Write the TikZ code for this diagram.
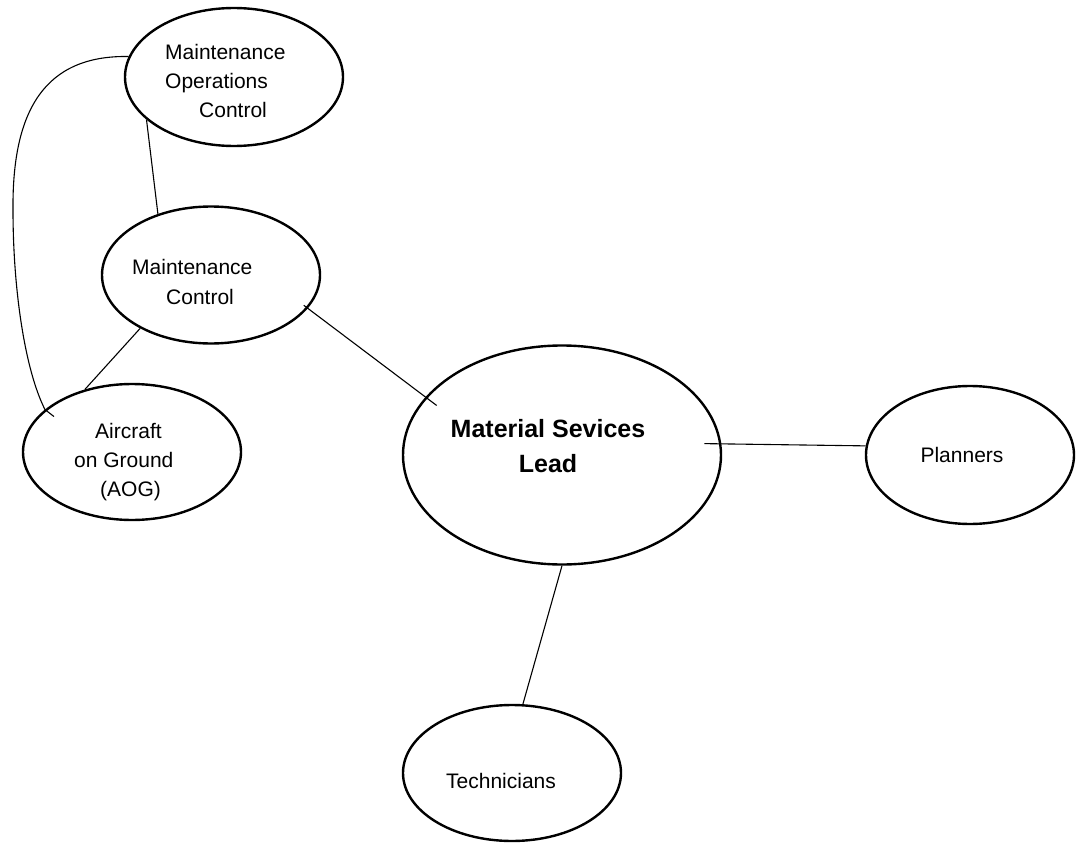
\documentclass[tikz,border=0pt]{standalone}
\usepackage{fontspec}
\setmainfont{Liberation Sans}
\usetikzlibrary{shapes.geometric}
\begin{document}
\begin{tikzpicture}[x=1pt,y=-1pt,
  bubble/.style={draw=black,line width=2.4pt,ellipse,inner sep=0pt},
  link/.style={draw=black,line width=1.1pt},
  lbl/.style={inner sep=0pt,font=\fontsize{21}{29}\selectfont}]
\useasboundingbox (0,0) rectangle (1077,843);
% ellipses
\node[bubble,minimum width=218pt,minimum height=138pt] (moc) at (234,77) {};
\node[bubble,minimum width=218pt,minimum height=137pt] (mc) at (211,275) {};
\node[bubble,minimum width=218pt,minimum height=136pt] (aog) at (132,452) {};
\node[bubble,minimum width=318pt,minimum height=219pt] (msl) at (562,455) {};
\node[bubble,minimum width=208pt,minimum height=138pt] (planners) at (970,455) {};
\node[bubble,minimum width=218pt,minimum height=136pt] (tech) at (512,773) {};
% labels
\node[lbl,align=left,anchor=west] (mocT) at (165,80.5) {Maintenance\\Operations\\\hspace*{34pt}Control};
\node[lbl,align=left,anchor=west,font=\fontsize{21}{30}\selectfont] (mcT) at (132,282) {Maintenance\\\hspace*{34pt}Control};
\node[lbl,align=left,anchor=west] (aogT) at (74,462) {\hspace*{21pt}Aircraft\\on Ground\\\hspace*{26pt}(AOG)};
\node[lbl,align=center,font=\bfseries\fontsize{25}{35}\selectfont] (mslT) at (548,446) {Material Sevices\\Lead};
\node[lbl] (plT) at (962,455) {Planners};
\node[lbl] (techT) at (501,781) {Technicians};
% connectors
\draw[link] (moc.206) -- (mc.131);
\draw[link] (moc.169) .. controls (45,55) and (12,110) .. (13,210)
  .. controls (13,290) and (25,370) .. (aog.154) -- ++(9,7);
\draw[link] (mc.217) -- (aog.127);
\draw[link,shorten <=-5pt,shorten >=-14pt] (mc.341) -- (msl.157);
\draw[link,shorten <=-17pt] (msl.4) -- (planners.175);
\draw[link] (msl.270) -- (tech.81);
\end{tikzpicture}
\end{document}
